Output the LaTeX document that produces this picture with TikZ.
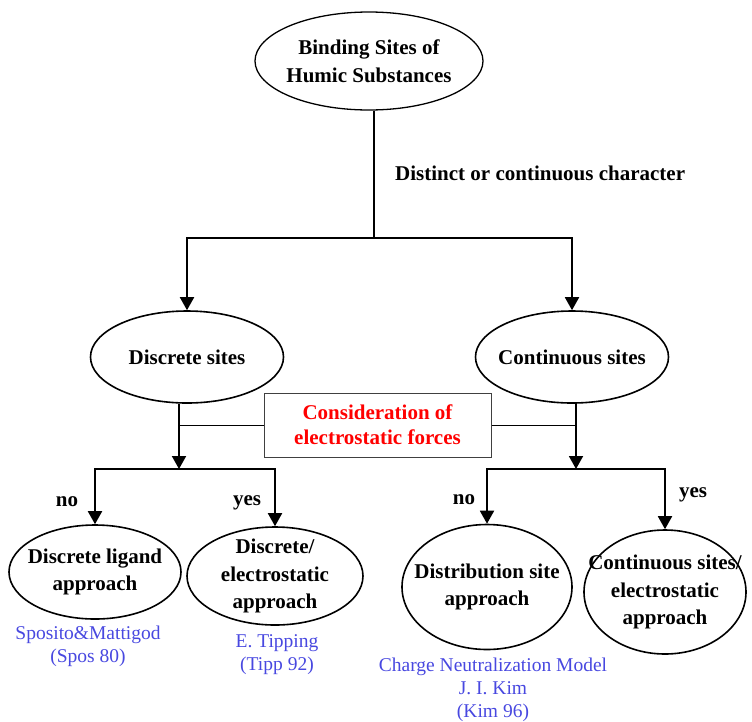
\documentclass[tikz,border=0pt]{standalone}
\usepackage{fontspec}
\setmainfont{Liberation Serif}
\usetikzlibrary{arrows.meta,shapes.geometric}
\definecolor{citeblue}{RGB}{72,72,224}

\begin{document}
\begin{tikzpicture}[x=1pt,y=-1pt,
		site/.style={draw,ellipse,line width=1.6pt,inner sep=-30pt,align=center,font=\bfseries\fontsize{21}{27.5}\selectfont},
		link/.style={line width=1.9pt},
		tip/.style={-{Triangle[length=13pt,width=14pt]}},
		cite/.style={align=center,text=citeblue,font=\fontsize{19.5}{23}\selectfont},
		word/.style={inner sep=0pt,font=\bfseries\fontsize{21}{27}\selectfont}]
		%%%%% START %%%%%
		\useasboundingbox (0,0) rectangle (752,721);
		
		\node[site,line width=1.3pt,minimum width=228pt,minimum height=98pt] (bind) at (369,61) {Binding Sites of\\Humic Substances};
		\node[word,anchor=west] (distinct) at (395,173) {Distinct or continuous character};
		
		\node[site,minimum width=193pt,minimum height=92pt] (disc) at (187,357) {Discrete sites};
		\node[site,minimum width=193pt,minimum height=92pt] (cont) at (572,357) {Continuous sites};
		
		\node[draw=black!75,line width=1pt,minimum width=227pt,minimum height=64pt,align=center,text=red,font=\bfseries\fontsize{21}{25}\selectfont] (force) at (377.5,425) {Consideration of\\electrostatic forces};
		
		\node[site,minimum width=172pt,minimum height=94pt] (lig) at (95,572) {Discrete ligand\\approach};
		\node[site,minimum width=176pt,minimum height=98pt] (discel) at (275,576) {Discrete/\\electrostatic\\approach};
		\node[site,minimum width=170pt,minimum height=125pt] (dist) at (487,587) {Distribution site\\approach};
		\node[site,minimum width=162pt,minimum height=124pt] (contel) at (665,592) {Continuous sites/\\electrostatic\\approach};
		
		\node[word] (no1) at (67,502) {no};
		\node[word] (yes1) at (247,503) {yes};
		\node[word] (no2) at (464,500) {no};
		\node[word] (yes2) at (693,495) {yes};
		
		\node[cite] (spos) at (88,646) {Sposito\&Mattigod\\(Spos 80)};
		\node[cite] (tipp) at (277,655) {E. Tipping\\(Tipp 92)};
		\node[cite] (kim) at (493,690) {Charge Neutralization Model\\J. I. Kim\\(Kim 96)};
		
		% junctions
		\coordinate (split) at (374,238);
		\coordinate (dsplit) at (179,469);
		\coordinate (csplit) at (576,469);
		
		\draw[link] (bind.south -| split) -- (split);
		\draw[link,tip] (split) -| (disc.north);
		\draw[link,tip] (split) -| (cont.north);
		
		\draw[link,tip] (disc.south -| dsplit) -- (dsplit);
		\draw[link,tip] (cont.south -| csplit) -- (csplit);
		\draw[line width=1pt] (force.west) -- (force.west -| dsplit);
		\draw[line width=1pt] (force.east) -- (force.east -| csplit);
		
		\draw[link,tip] (dsplit) -| (lig.north);
		\draw[link,tip] (dsplit) -| (discel.north);
		\draw[link,tip] (csplit) -| (dist.north);
		\draw[link,tip] (csplit) -| (contel.north);
		
		%%%%% END %%%%%
\end{tikzpicture}
\end{document}
